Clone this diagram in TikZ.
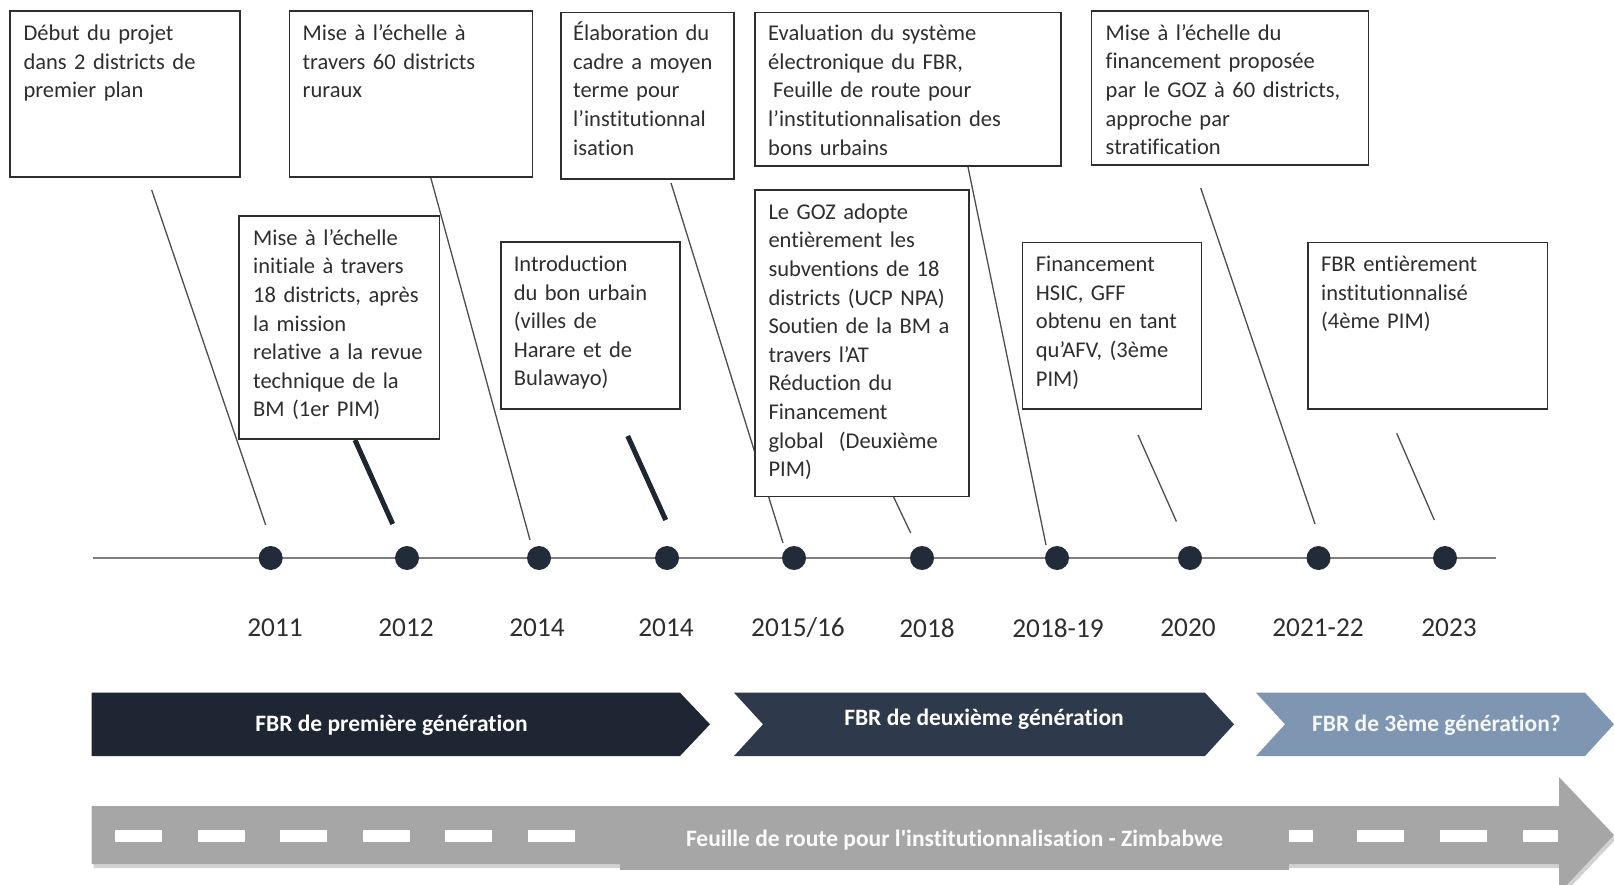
\documentclass[tikz,border=0pt]{standalone}
\usepackage{fontspec}
\setmainfont{Carlito}[Ligatures={TeX,NoCommon}]
\usetikzlibrary{backgrounds,calc}
\definecolor{navyA}{HTML}{1F2633}
\definecolor{navyB}{HTML}{2E394B}
\definecolor{steel}{HTML}{7F96B3}
\definecolor{road}{HTML}{A6A6A6}
\definecolor{dotc}{HTML}{222B39}
\definecolor{axisc}{HTML}{7F7F7F}
\definecolor{txt}{HTML}{2E2E2E}
\definecolor{linkc}{HTML}{4D4D4D}
\begin{document}
\begin{tikzpicture}[x=1pt,y=-1pt,
  evbox/.style={draw=txt, line width=1.5pt, fill=white, anchor=north west, inner sep=0pt},
  evtext/.style={anchor=base west, text width=320pt, align=left, inner sep=0pt, text=txt, font=\fontsize{22.5}{28.6}\selectfont},
  year/.style={text=txt, font=\fontsize{27.3}{32}\selectfont, inner sep=0pt},
  dot/.style={circle, fill=dotc, minimum size=24pt, inner sep=0pt},
  thinlink/.style={draw=linkc, line width=1.3pt},
  thicklink/.style={draw=navyA, line width=5pt},
  gentext/.style={font=\fontsize{23.5}{28}\selectfont\bfseries, inner sep=0pt},
  dashbar/.style={fill=white, draw=none},
]
\useasboundingbox (0,0) rectangle (1614,885);
\clip (0,0) rectangle (1614,885);

% ---------- event boxes ----------
\node[evbox, minimum width=230pt, minimum height=166pt] (b1) at (9.3,10.3) {};
\node[evbox, minimum width=243pt, minimum height=166pt] (b2) at (288.5,10.3) {};
\node[evbox, minimum width=173pt, minimum height=166.5pt] (b3) at (560,11.8) {};
\node[evbox, minimum width=306pt, minimum height=153.5pt] (b4) at (754,11.8) {};
\node[evbox, minimum width=277pt, minimum height=154pt] (b5) at (1090.5,10.3) {};
\node[evbox, minimum width=200.5pt, minimum height=223pt] (b6) at (238,215.3) {};
\node[evbox, minimum width=179pt, minimum height=166.5pt] (b7) at (500,241.5) {};
\node[evbox, minimum width=214pt, minimum height=306.5pt] (b8) at (754.3,189.3) {};
\node[evbox, minimum width=179pt, minimum height=166.5pt] (b9) at (1021.7,241.7) {};
\node[evbox, minimum width=239.5pt, minimum height=166.5pt] (b10) at (1307.3,241.7) {};

\node[evtext] (t1) at ($(b1.north west)+(14,30.5)$) {Début du projet\\dans 2 districts de\\premier plan};
\node[evtext] (t2) at ($(b2.north west)+(14,30.5)$) {Mise à l’échelle à\\travers 60 districts\\ruraux};
\node[evtext] (t3) at ($(b3.north west)+(13,29)$) {Élaboration du\\cadre a moyen\\terme pour\\l’institutionnal\\isation};
\node[evtext] (t4) at ($(b4.north west)+(14,29)$) {Evaluation du système\\électronique du FBR,\\\hspace*{5pt}Feuille de route pour\\l’institutionnalisation des\\bons urbains};
\node[evtext] (t5) at ($(b5.north west)+(15,30)$) {Mise à l’échelle du\\financement proposée\\par le GOZ à 60 districts,\\approche par\\stratification};
\node[evtext] (t6) at ($(b6.north west)+(15,30)$) {Mise à l’échelle\\initiale à travers\\18 districts, après\\la mission\\relative a la revue\\technique de la\\BM (1er PIM)};
\node[evtext] (t7) at ($(b7.north west)+(13.6,30)$) {Introduction\\du bon urbain\\(villes de\\Harare et de\\Bulawayo)};
\node[evtext] (t8) at ($(b8.north west)+(14,30)$) {Le GOZ adopte\\entièrement les\\subventions de 18\\districts (UCP NPA)\\Soutien de la BM a\\travers l’AT\\Réduction du\\Financement\\global\ \ (Deuxième\\PIM)};
\node[evtext] (t9) at ($(b9.north west)+(14,30)$) {Financement\\HSIC, GFF\\obtenu en tant\\qu’AFV, (3ème\\PIM)};
\node[evtext] (t10) at ($(b10.north west)+(13.6,30)$) {FBR entièrement\\institutionnalisé\\(4ème PIM)};

% ---------- timeline ----------
\coordinate (axL) at (93,558);
\coordinate (axR) at (1496,558);
\node[dot] (d1) at (270.7,558) {};
\node[dot] (d2) at (407,558) {};
\node[dot] (d3) at (539,558) {};
\node[dot] (d4) at (667,558) {};
\node[dot] (d5) at (794,558) {};
\node[dot] (d6) at (922,558) {};
\node[dot] (d7) at (1057,558) {};
\node[dot] (d8) at (1190,558) {};
\node[dot] (d9) at (1318.5,558) {};
\node[dot] (d10) at (1445,558) {};

\node[year] (y1) at (275,628) {2011};
\node[year] (y2) at (406,628) {2012};
\node[year] (y3) at (537,628) {2014};
\node[year] (y4) at (666,628) {2014};
\node[year] (y5) at (798,628) {2015/16};
\node[year] (y6) at (927,628) {2018};
\node[year] (y7) at (1058,628) {2018-19};
\node[year] (y8) at (1188,628) {2020};
\node[year] (y9) at (1318,628) {2021-22};
\node[year] (y10) at (1449,628) {2023};

% connector end points
\coordinate (l1a) at (151.7,190);   \coordinate (l1b) at (265.7,525);
\coordinate (l2a) at (430.7,177.5); \coordinate (l2b) at (530,540);
\coordinate (l3a) at (671,183);     \coordinate (l3b) at (783,543);
\coordinate (l4a) at (968,167);     \coordinate (l4b) at (1046,545);
\coordinate (l5a) at (1200.7,188);  \coordinate (l5b) at (1315,524);
\coordinate (l6a) at (355,440);     \coordinate (l6b) at (392.7,524);
\coordinate (l7a) at (627.7,436);   \coordinate (l7b) at (665.7,520);
\coordinate (l8a) at (893.6,497);   \coordinate (l8b) at (910.7,533);
\coordinate (l9a) at (1138,435);    \coordinate (l9b) at (1176.4,521.5);
\coordinate (l10a) at (1396.7,433.3); \coordinate (l10b) at (1434.3,520);

\begin{pgfonlayer}{background}
  \draw[draw=axisc, line width=2.5pt] (axL) -- (axR);
  \draw[thinlink] (l1a) -- (l1b);
  \draw[thinlink] (l2a) -- (l2b);
  \draw[thinlink] (l3a) -- (l3b);
  \draw[thinlink] (l4a) -- (l4b);
  \draw[thinlink] (l5a) -- (l5b);
  \draw[thicklink] (l6a) -- (l6b);
  \draw[thicklink] (l7a) -- (l7b);
  \draw[thinlink] (l8a) -- (l8b);
  \draw[thinlink] (l9a) -- (l9b);
  \draw[thinlink] (l10a) -- (l10b);
\end{pgfonlayer}

% ---------- generation chevrons ----------
\fill[navyA] (91.5,692.7) -- (680,692.7) -- (710,724.3) -- (680,756) -- (91.5,756) -- cycle;
\fill[navyB] (734,692.7) -- (1205,692.7) -- (1234,724.3) -- (1205,756) -- (734,756) -- (763,724.3) -- cycle;
\fill[steel] (1256,692.7) -- (1585,692.7) -- (1614,724.3) -- (1585,756) -- (1256,756) -- (1285,724.3) -- cycle;
\node[gentext, text=white] (g1) at (391.5,725) {FBR de première génération};
\node[gentext, text=white] (g2) at (984,719) {FBR de deuxième génération};
\node[gentext, text=white!92!steel] (g3) at (1436.5,725) {FBR de 3ème génération?};

% ---------- road arrow ----------
\fill[black, opacity=0.18] (93.5,810) -- (1561,810) -- (1561,781) -- (1616,839) -- (1561,897) -- (1561,868) -- (93.5,868) -- cycle;
\fill[road] (91.5,806) -- (1559,806) -- (1559,777) -- (1614,835) -- (1559,893) -- (1559,864) -- (91.5,864) -- cycle;
\foreach \xx in {115,197.6,280.2,362.8,445.4,528} {
  \fill[dashbar] (\xx,830) rectangle ++(47,12);
}
\foreach \xx in {1266,1357,1440} {
  \fill[dashbar] (\xx,830) rectangle ++(47,12);
}
\fill[dashbar] (1523,830) rectangle (1558,842);
\fill[road] (620,814) rectangle (1289,870);
\node[gentext, text=white!95!road] (rd) at (954.5,840) {Feuille de route pour l\textquotesingle institutionnalisation - Zimbabwe};
\end{tikzpicture}
\end{document}
